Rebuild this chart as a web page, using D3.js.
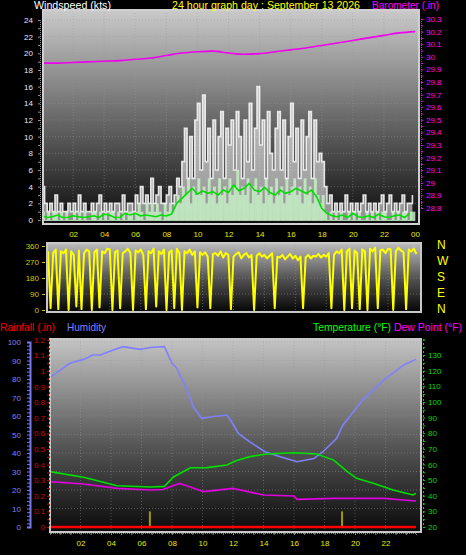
<!DOCTYPE html>
<html><head><meta charset="utf-8">
<script src="https://cdn.jsdelivr.net/npm/d3@7"></script>
<style>
html,body{margin:0;padding:0;background:#000;}
svg{display:block;font-family:"Liberation Sans",Arial,sans-serif;}
</style></head><body>
<script>
// ---------- DATA ----------
const hourTicks = [2,4,6,8,10,12,14,16,18,20,22,24];
const hourLabels = ["02","04","06","08","10","12","14","16","18","20","22","00"];
// 10-minute samples (144) : gust speed (kts)
const gustValues = [
4,2,1,2,1,3, 1,2,1,1,2,1, 2,1,3,1,2,1, 1,2,1,2,3,1, 2,1,2,1,2,2, 1,3,1,2,2,1,
3,2,4,2,3,2, 5,2,3,4,2,2, 3,4,2,3,5,4, 7,11,5,10,5,12, 14,6,15,7,11,5, 12,6,10,13,5,11,
9,12,6,13,10,5, 12,7,14,6,11,16, 9,12,5,13,8,6, 11,13,6,12,5,10, 14,7,11,5,12,6, 10,13,5,12,7,8,
7,4,2,3,1,2, 1,2,1,3,1,2, 1,2,1,2,3,1, 2,1,2,1,2,3, 1,2,3,1,2,1, 2,3,1,2,2,3];
// 10-minute samples (144) : wind speed (kts)
const speedValues = [
1,0,1,0,1,1, 0,1,0,1,0,0, 1,0,1,0,1,0, 0,1,1,0,1,0, 1,0,1,1,0,1, 0,1,0,1,1,0,
1,2,1,0,2,1, 2,1,2,1,0,2, 1,2,1,2,3,2, 4,3,5,2,4,3, 5,3,4,2,5,3, 4,2,5,3,4,2,
5,3,4,6,3,4, 3,5,2,4,5,3, 4,2,5,3,4,2, 5,3,4,2,5,3, 4,5,3,4,2,5, 3,4,2,5,3,2,
3,1,0,1,0,1, 0,1,0,0,1,0, 1,0,1,0,0,1, 0,1,0,1,0,1, 1,0,0,1,0,1, 0,1,1,0,1,1];
// 20-minute samples (72) : average wind speed (kts)
const avgValues = [
0.5,0.3,0.4, 0.6,0.3,0.3, 0.5,0.4,0.3, 0.4,0.5,0.3, 0.7,0.6,0.3, 0.3,0.8,0.6,
0.8,0.5,0.6, 0.5,0.4,0.6, 0.5,0.7,2.0, 2.6,3.2,3.8, 3.1,3.5,3.2, 3.4,3.0,3.6,
3.3,4.2,3.5, 3.8,4.4,3.6, 3.4,3.9,3.3, 3.0,3.6,3.2, 3.4,3.8,3.5, 3.2,3.6,2.8,
1.4,0.8,0.5, 0.4,0.6,0.3, 0.8,0.4,0.3, 0.5,0.3,0.7, 0.4,0.3,0.5, 0.6,0.3,0.8];
// hourly barometer (in)
const baroValues = [29.95,29.95,29.955,29.96,29.965,29.97,29.98,29.99,30.01,30.03,30.04,30.045,30.03,30.02,30.025,30.04,30.055,30.07,30.09,30.11,30.13,30.15,30.17,30.19,30.2];
// 10-minute samples (144) : wind direction (deg)
const dirValues = [
330,10,320,340,5,330, 320,340,0,330,310,20, 335,5,320,340,330,0, 325,340,15,330,320,345,
340,0,325,335,10,320, 330,345,320,0,335,325, 340,310,5,330,320,345, 20,330,315,340,0,325,
335,10,345,320,0,330, 320,340,310,330,15,325, 310,325,300,10,315,320, 305,330,295,320,310,5,
300,315,325,290,310,320, 295,310,0,305,320,300, 310,290,305,320,10,300, 295,310,285,300,315,290,
305,280,300,10,295,310, 290,305,300,315,295,310, 300,320,10,310,330,320, 340,0,330,345,10,335,
320,5,340,330,0,345, 330,350,10,335,340,320, 345,340,0,330,350,335, 325,5,340,330,345,315];
const dirLabels = ["N","W","S","E","N"];
// humidity (%)
const humTimes = [0,0.2,1.3,2.2,2.8,3.3,4.15,4.8,5.9,6.6,7.5,8.0,8.3,9.0,9.4,9.95,10.5,11.6,11.9,12.35,13.1,14.1,15.1,16.2,17.3,17.9,18.8,19.2,20.5,21.9,23.2,24];
const humValues = [81,82,88.5,90.6,93,93,95.7,97.5,96,97,97.5,88.5,86,74,65,58.7,59.5,60.5,57,50.6,46,40.7,38,35.3,37,40.7,48,55,68.6,79.5,87.6,90.6];
// temperature (F)
const tempTimes = [0,2.2,4.4,6.6,7.5,8.1,9.2,10.3,11.6,12.2,13.1,14.2,16,17.5,18.6,19.5,20.1,21.2,22.5,23.8,24];
const tempValues = [55.4,51.8,46.4,45.6,46,52,57.9,58,59.6,62.4,65,66.7,67.5,66.7,62.8,55.4,51.1,48,43.7,40.5,41.5];
// dew point (F)
const dewTimes = [0,2.2,4.4,6.6,7.4,8.5,10.1,12,14,16.0,16.2,18.6,21.9,24];
const dewValues = [49,47.5,44.7,43.7,44,47.9,42.6,44.7,40.5,39.8,37.7,38.3,38.3,36.6];
// rainfall (in)
const rainTimes = [0,24];
const rainValues = [0,0];
const rainRateTimes = [6.55,19.15];
const rainRateValues = [0.1,0.1];

// ---------- SVG ----------
const W=466,H=555;
const svg=d3.select("body").append("svg").attr("width",W).attr("height",H);
svg.append("rect").attr("width",W).attr("height",H).attr("fill","#000");
const defs=svg.append("defs");
function grad(id,stops){
  const g=defs.append("linearGradient").attr("id",id).attr("x1",0).attr("x2",0).attr("y1",0).attr("y2",1);
  stops.forEach(s=>g.append("stop").attr("offset",s[0]).attr("stop-color",s[1]));
}
grad("gTop",[[0,"#cacaca"],[0.5,"#6a6a6a"],[1,"#0c0c0c"]]);
grad("gDir",[[0,"#bdbdbd"],[0.5,"#555"],[1,"#050505"]]);
grad("gBot",[[0,"#c4c4c4"],[0.55,"#565656"],[1,"#0a0a0a"]]);

const FONT="Liberation Sans, Arial, sans-serif";
function styleAxis(g,color,fs,dash){
  g.selectAll("text").attr("fill",color).style("font-size",fs+"px").style("font-family",FONT);
  g.selectAll("line").attr("stroke",color);
  g.select(".domain").attr("stroke",color).attr("stroke-dasharray",dash||null);
}

// ===== TOP PANEL =====
const xTop=d3.scaleLinear([0,24],[42,415]);
const yWind=d3.scaleLinear([0,24],[220,20]);
const yBaro=d3.scaleLinear([28.8,30.3],[208,19]);
const tp={x0:43,x1:419,y0:10,y1:224};
svg.append("rect").attr("x",tp.x0).attr("y",tp.y0).attr("width",tp.x1-tp.x0).attr("height",tp.y1-tp.y0).attr("fill","url(#gTop)");
const gridTop=svg.append("g").attr("stroke","#9a9a9a").attr("stroke-opacity",0.45).attr("stroke-dasharray","1,2");
d3.range(2,25,2).forEach(v=>gridTop.append("line").attr("x1",tp.x0).attr("x2",tp.x1).attr("y1",yWind(v)).attr("y2",yWind(v)));
hourTicks.slice(0,11).forEach(h=>gridTop.append("line").attr("x1",xTop(h)).attr("x2",xTop(h)).attr("y1",tp.y0).attr("y2",tp.y1));

const step=1/6;
svg.append("path").datum(gustValues)
  .attr("d",d3.area().x((d,i)=>xTop(i*step)).y0(yWind(0)).y1(d=>yWind(d)).curve(d3.curveStepAfter))
  .attr("fill","#ffffff").attr("opacity",0.55);
svg.append("g").selectAll("rect").data(speedValues).join("rect")
  .attr("x",(d,i)=>xTop(i*step)).attr("width",xTop(step)-xTop(0)+0.3)
  .attr("y",d=>yWind(d)).attr("height",d=>yWind(0)-yWind(d)+1)
  .attr("fill","#c6eec6").attr("opacity",0.85);
svg.append("path").datum(gustValues)
  .attr("d",d3.line().x((d,i)=>xTop(i*step)).y(d=>yWind(d)).curve(d3.curveStepAfter))
  .attr("fill","none").attr("stroke","#f4f4f4").attr("stroke-width",1.6).attr("opacity",0.9);
svg.append("path").datum(avgValues)
  .attr("d",d3.line().x((d,i)=>xTop(i/3)).y(d=>yWind(d)))
  .attr("fill","none").attr("stroke","#00dd00").attr("stroke-width",1.6);
svg.append("path").datum(baroValues)
  .attr("d",d3.line().x((d,i)=>xTop(i)).y(d=>yBaro(d)).curve(d3.curveMonotoneX))
  .attr("fill","none").attr("stroke","#ee00ee").attr("stroke-width",1.6);
svg.append("rect").attr("x",tp.x0).attr("y",tp.y0).attr("width",tp.x1-tp.x0).attr("height",tp.y1-tp.y0)
  .attr("fill","none").attr("stroke","#cfcfcf").attr("stroke-width",2);

const axWind=svg.append("g").attr("transform","translate(40,0)")
  .call(d3.axisLeft(yWind).tickValues(d3.range(0,25,1)).tickSize(2).tickPadding(5).tickFormat(d=>d%2===0?d:""));
styleAxis(axWind,"#e2e8ff",8,"1,1");
axWind.selectAll("line").attr("stroke","#909090");axWind.select(".domain").attr("stroke","#909090");
const axBaro=svg.append("g").attr("transform","translate(421,0)")
  .call(d3.axisRight(yBaro).tickValues(d3.range(0,31).map(i=>+(28.8+i*0.05).toFixed(2))).tickSize(2).tickPadding(3)
  .tickFormat(d=>Math.round(d*100)%10===0?String(+d.toFixed(1)):""));
styleAxis(axBaro,"#ff00ff",8,"1,1");
const axXTop=svg.append("g").attr("transform","translate(0,226)")
  .call(d3.axisBottom(xTop).tickValues(hourTicks).tickSize(0).tickPadding(5).tickFormat((d,i)=>hourLabels[i]));
styleAxis(axXTop,"#e8e800",8);axXTop.select(".domain").remove();

// ===== DIRECTION PANEL =====
const xDir=d3.scaleLinear([0,24],[48,419]);
const yDir=d3.scaleLinear([0,360],[310,246]);
const dp={x0:47,x1:421,y0:243,y1:312};
svg.append("rect").attr("x",dp.x0).attr("y",dp.y0).attr("width",dp.x1-dp.x0).attr("height",dp.y1-dp.y0).attr("fill","url(#gDir)");
const gridDir=svg.append("g").attr("stroke","#9a9a9a").attr("stroke-opacity",0.5).attr("stroke-dasharray","1,2");
[90,180,270].forEach(v=>gridDir.append("line").attr("x1",dp.x0).attr("x2",dp.x1).attr("y1",yDir(v)).attr("y2",yDir(v)));
hourTicks.slice(0,11).forEach(h=>gridDir.append("line").attr("x1",xDir(h)).attr("x2",xDir(h)).attr("y1",dp.y0).attr("y2",dp.y1));
svg.append("path").datum(dirValues)
  .attr("d",d3.line().x((d,i)=>xDir(i*step)).y(d=>yDir(d)))
  .attr("fill","none").attr("stroke","#ffff00").attr("stroke-width",2).attr("stroke-linejoin","round");
svg.append("rect").attr("x",dp.x0).attr("y",dp.y0).attr("width",dp.x1-dp.x0).attr("height",dp.y1-dp.y0)
  .attr("fill","none").attr("stroke","#c8c8c8").attr("stroke-width",2);
const axDir=svg.append("g").attr("transform","translate(45,0)")
  .call(d3.axisLeft(yDir).tickValues([0,90,180,270,360]).tickSize(3).tickPadding(3));
styleAxis(axDir,"#cccc00",8);axDir.select(".domain").remove();
const yComp=d3.scalePoint().domain(d3.range(dirLabels.length)).range([249,313]);
svg.append("g").selectAll("text").data(dirLabels).join("text")
  .attr("x",437).attr("y",(d,i)=>yComp(i)).text(d=>d)
  .attr("fill","#ffff00").style("font-size","12px").style("font-family",FONT);

// ===== BOTTOM PANEL =====
const xBot=d3.scaleLinear([0,24],[50,416]);
const yHum=d3.scaleLinear([0,100],[527,342]);
const yRain=d3.scaleLinear([0,1.2],[527,339.8]);
const yTemp=d3.scaleLinear([20,140],[527,339.4]);
const bp={x0:50,x1:421,y0:339,y1:532};
svg.append("rect").attr("x",bp.x0).attr("y",bp.y0).attr("width",bp.x1-bp.x0).attr("height",bp.y1-bp.y0).attr("fill","url(#gBot)");
const gridBot=svg.append("g").attr("stroke","#9a9a9a").attr("stroke-opacity",0.45).attr("stroke-dasharray","1,2");
d3.range(10,101,10).forEach(v=>gridBot.append("line").attr("x1",bp.x0).attr("x2",bp.x1).attr("y1",yHum(v)).attr("y2",yHum(v)));
hourTicks.slice(0,11).forEach(h=>gridBot.append("line").attr("x1",xBot(h)).attr("x2",xBot(h)).attr("y1",bp.y0).attr("y2",bp.y1));

svg.append("g").selectAll("line").data(rainRateValues).join("line")
  .attr("x1",(d,i)=>xBot(rainRateTimes[i])).attr("x2",(d,i)=>xBot(rainRateTimes[i]))
  .attr("y1",d=>yRain(d)).attr("y2",yRain(0)).attr("stroke","#a09a00").attr("stroke-width",2);
svg.append("path").datum(humValues)
  .attr("d",d3.line().x((d,i)=>xBot(humTimes[i])).y(d=>yHum(d)))
  .attr("fill","none").attr("stroke","#8080ff").attr("stroke-width",1.6);
svg.append("path").datum(tempValues)
  .attr("d",d3.line().x((d,i)=>xBot(tempTimes[i])).y(d=>yTemp(d)))
  .attr("fill","none").attr("stroke","#00e000").attr("stroke-width",1.6);
svg.append("path").datum(dewValues)
  .attr("d",d3.line().x((d,i)=>xBot(dewTimes[i])).y(d=>yTemp(d)))
  .attr("fill","none").attr("stroke","#e000e0").attr("stroke-width",1.6);
svg.append("path").datum(rainValues)
  .attr("d",d3.line().x((d,i)=>xBot(rainTimes[i])).y(d=>yRain(d)))
  .attr("fill","none").attr("stroke","#ff0000").attr("stroke-width",2.5);
svg.append("rect").attr("x",bp.x0).attr("y",bp.y0).attr("width",bp.x1-bp.x0).attr("height",bp.y1-bp.y0)
  .attr("fill","none").attr("stroke","#c8c8c8").attr("stroke-width",2);

const axHum=svg.append("g").attr("transform","translate(30,0)")
  .call(d3.axisLeft(yHum).tickValues(d3.range(0,101,2)).tickSize(3).tickPadding(6).tickFormat(d=>d%10===0?d:""));
styleAxis(axHum,"#7878f0",8);axHum.select(".domain").attr("stroke-width",2);
axHum.selectAll("text").attr("fill","#8080ff");
const axRain=svg.append("g").attr("transform","translate(49,0)")
  .call(d3.axisLeft(yRain).tickValues(d3.range(0,25).map(i=>+(i*0.05).toFixed(2))).tickSize(2).tickPadding(2)
  .tickFormat(d=>Math.round(d*100)%10===0?String(+d.toFixed(1)):""));
styleAxis(axRain,"#dd0000",8,"2,2");
const axTemp=svg.append("g").attr("transform","translate(423,0)")
  .call(d3.axisRight(yTemp).tickValues(d3.range(20,141,5)).tickSize(2).tickPadding(3).tickFormat(d=>d%10===0&&d<140?d:""));
styleAxis(axTemp,"#00dd00",8,"2,2");
const axXBot=svg.append("g").attr("transform","translate(0,533)")
  .call(d3.axisBottom(xBot).tickValues(d3.range(0,36).map(i=>i*2/3)).tickSize(2).tickPadding(5)
  .tickFormat(d=>{const k=hourTicks.indexOf(Math.round(d*100)/100);return k>=0?hourLabels[k]:"";}));
styleAxis(axXBot,"#e8e800",8,"1,1");
axXBot.selectAll("line").attr("stroke","#808080");axXBot.select(".domain").attr("stroke","#808080");

// ===== TEXT =====
function txt(x,y,s,c,len){svg.append("text").attr("x",x).attr("y",y).text(s).attr("fill",c)
  .attr("textLength",len).attr("lengthAdjust","spacingAndGlyphs")
  .style("font-size","11px").style("font-family",FONT);}
txt(34,9,"Windspeed (kts)","#ffffff",77);
txt(172,9,"24 hour graph day : September 13 2026","#ffff00",188);
txt(372,9,"Barometer (.in)","#ff00ff",67);
txt(0,331,"Rainfall (.in)","#ff0000",55);
txt(67,331,"Humidity","#8080ff",39);
txt(313,331,"Temperature (°F)","#00ff00",78);
txt(394,331,"Dew Point (°F)","#ff00ff",68);
</script>
</body></html>
